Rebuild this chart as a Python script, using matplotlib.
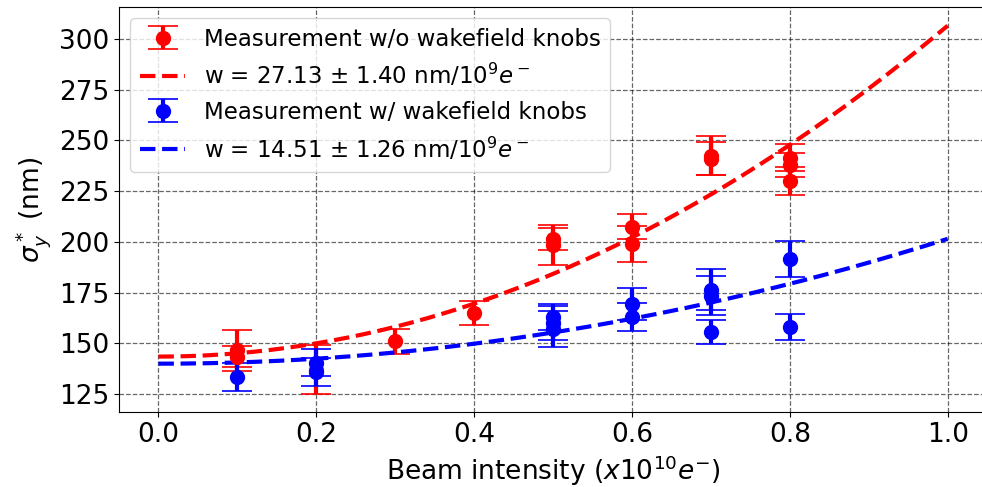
import numpy as np
import matplotlib.pyplot as plt

# beam intensity (x1e10 e-) and measured sigma_y* (nm) with errors
x_wo = [0.1, 0.1, 0.2, 0.3, 0.4, 0.5, 0.5, 0.6, 0.6, 0.7, 0.7, 0.8, 0.8, 0.8]
y_wo = [146.5, 143.5, 137.0, 151.0, 165.0, 201.5, 198.5, 207.5, 199.0, 242.5, 241.0, 241.5, 238.0, 230.0]
e_wo = [10.0, 5.0, 12.0, 6.0, 6.0, 5.5, 10.0, 6.0, 9.0, 9.5, 8.0, 6.5, 6.0, 7.0]

x_w = [0.1, 0.2, 0.2, 0.5, 0.5, 0.5, 0.6, 0.6, 0.7, 0.7, 0.7, 0.8, 0.8]
y_w = [133.5, 140.5, 136.0, 163.0, 160.0, 157.0, 169.5, 163.0, 176.5, 173.5, 155.5, 191.5, 158.0]
e_w = [7.0, 6.5, 7.0, 6.5, 8.5, 9.0, 8.0, 7.0, 10.0, 9.5, 6.0, 9.0, 6.5]

# quadratic fit: sigma = s0 + a*N^2 ; w values from the legend
s0_wo, a_wo, w_wo, dw_wo = 143.5, 163.0, 27.13, 1.40
s0_w, a_w, w_w, dw_w = 140.0, 61.5, 14.51, 1.26

n = np.linspace(0, 1, 200)

fig = plt.figure(figsize=(9.82, 4.87), dpi=100)
ax = fig.add_axes([0.1212, 0.154, 0.884, 0.8316])

h1 = ax.errorbar(x_wo, y_wo, yerr=e_wo, fmt='o', color='red', ms=10, elinewidth=3,
                 capsize=11, capthick=1.2, label='Measurement w/o wakefield knobs')
h2, = ax.plot(n, s0_wo + a_wo*n**2, '--', color='red', lw=3,
              label=r'w = %.2f $\pm$ %.2f nm/$10^9e^-$' % (w_wo, dw_wo))
h3 = ax.errorbar(x_w, y_w, yerr=e_w, fmt='o', color='blue', ms=10, elinewidth=3,
                 capsize=11, capthick=1.2, label='Measurement w/ wakefield knobs')
h4, = ax.plot(n, s0_w + a_w*n**2, '--', color='blue', lw=3,
              label=r'w = %.2f $\pm$ %.2f nm/$10^9e^-$' % (w_w, dw_w))

ax.set_xlim(-0.05, 1.05)
ax.set_ylim(116.2, 315.7)
ax.set_yticks([125, 150, 175, 200, 225, 250, 275, 300])
ax.grid(True, linestyle='--', color='k', alpha=0.6, lw=0.9)
ax.spines['right'].set_visible(False)
ax.tick_params(labelsize=19)
ax.set_xlabel(r'Beam intensity ($x10^{10}e^{-}$)', fontsize=19)
ax.set_ylabel(r'$\sigma_y^*$ (nm)', fontsize=19)
ax.legend(handles=[h1, h2, h3, h4], loc='upper left', fontsize=16.5)

plt.savefig('out.png')
